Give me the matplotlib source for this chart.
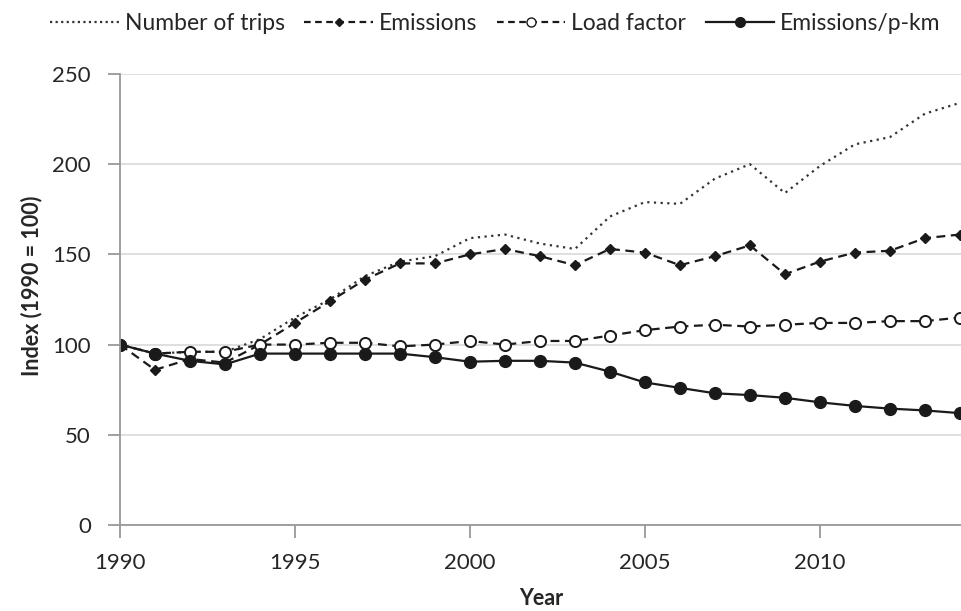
import matplotlib.pyplot as plt
from matplotlib.lines import Line2D

plt.rcParams['font.family'] = ['Lato', 'DejaVu Sans']

years = list(range(1990, 2015))

# index values, 1990 = 100
trips = [100, 95, 96, 96, 103, 115, 125, 138, 146, 149, 159, 161, 156, 153, 171,
         179, 178, 192, 200, 184, 199, 211, 215, 228, 234]
emissions = [100, 86, 92, 90, 100, 112, 124, 136, 145, 145, 150, 153, 149, 144, 153,
             151, 144, 149, 155, 139, 146, 151, 152, 159, 161]
load_factor = [100, 95, 96, 96, 100, 100, 101, 101, 99, 100, 102, 100, 102, 102, 105,
               108, 110, 111, 110, 111, 112, 112, 113, 113, 115]
emis_pkm = [100, 95, 91, 89, 95, 95, 95, 95, 95, 93, 90.5, 91, 91, 90, 85,
            79, 76, 73, 72, 70.5, 68, 66, 64.5, 63.5, 62]

fig = plt.figure(figsize=(9.62, 6.11), dpi=100)
ax = fig.add_axes([0.1247, 0.1408, 0.8753, 0.7381])

txt = '#262626'
ax.plot(years, trips, color='#333333', linestyle=(0, (1, 2)), linewidth=1.6)
ax.plot(years, emissions, color='#1a1a1a', linestyle=(0, (4, 2.5)), linewidth=1.6,
        marker='D', markersize=5.5)
ax.plot(years, load_factor, color='#1a1a1a', linestyle=(0, (4, 2.5)), linewidth=1.6,
        marker='o', markersize=8, markerfacecolor='white', markeredgewidth=1.4)
ax.plot(years, emis_pkm, color='#1a1a1a', linestyle='-', linewidth=1.6,
        marker='o', markersize=8.5)

ax.set_xlim(1990, 2014.06)
ax.set_ylim(0, 250)
ax.set_yticks(range(0, 251, 50))
ax.set_xticks(range(1990, 2011, 5))
ax.grid(axis='y', color='#d9d9d9', linewidth=1.2)
ax.set_axisbelow(True)
for s in ['top', 'right']:
    ax.spines[s].set_visible(False)
for s in ['left', 'bottom']:
    ax.spines[s].set_color('#999999')
    ax.spines[s].set_linewidth(1.3)
ax.tick_params(axis='both', colors='#999999', labelcolor=txt, labelsize=16,
               length=9, width=1.3)
ax.tick_params(axis='x', pad=11)
ax.tick_params(axis='y', pad=12)

ax.set_ylabel('Index (1990 = 100)', fontsize=15.5, fontweight='bold', color=txt)
ax.yaxis.set_label_coords(-0.092, 0.53)
ax.set_xlabel('Year', fontsize=15.5, fontweight='bold', color=txt, labelpad=11)

handles = [
    Line2D([], [], color='#333333', linestyle=(0, (1, 1.5)), linewidth=1.6),
    Line2D([], [], color='#1a1a1a', linestyle=(0, (3, 2)), linewidth=1.6,
           marker='D', markersize=4.5),
    Line2D([], [], color='#1a1a1a', linestyle=(0, (3, 2)), linewidth=1.6,
           marker='o', markersize=6.5, markerfacecolor='white'),
    Line2D([], [], color='#1a1a1a', linestyle='-', linewidth=1.6,
           marker='o', markersize=7),
]
labels = ['Number of trips', 'Emissions', 'Load factor', 'Emissions/p-km']
fig.legend(handles, labels, loc='upper left', bbox_to_anchor=(0.031, 1.012), ncol=4,
           frameon=False, fontsize=16.5, handlelength=3.0, handletextpad=0.25,
           columnspacing=0.85, labelcolor=txt)

fig.savefig('out.png', dpi=100)
